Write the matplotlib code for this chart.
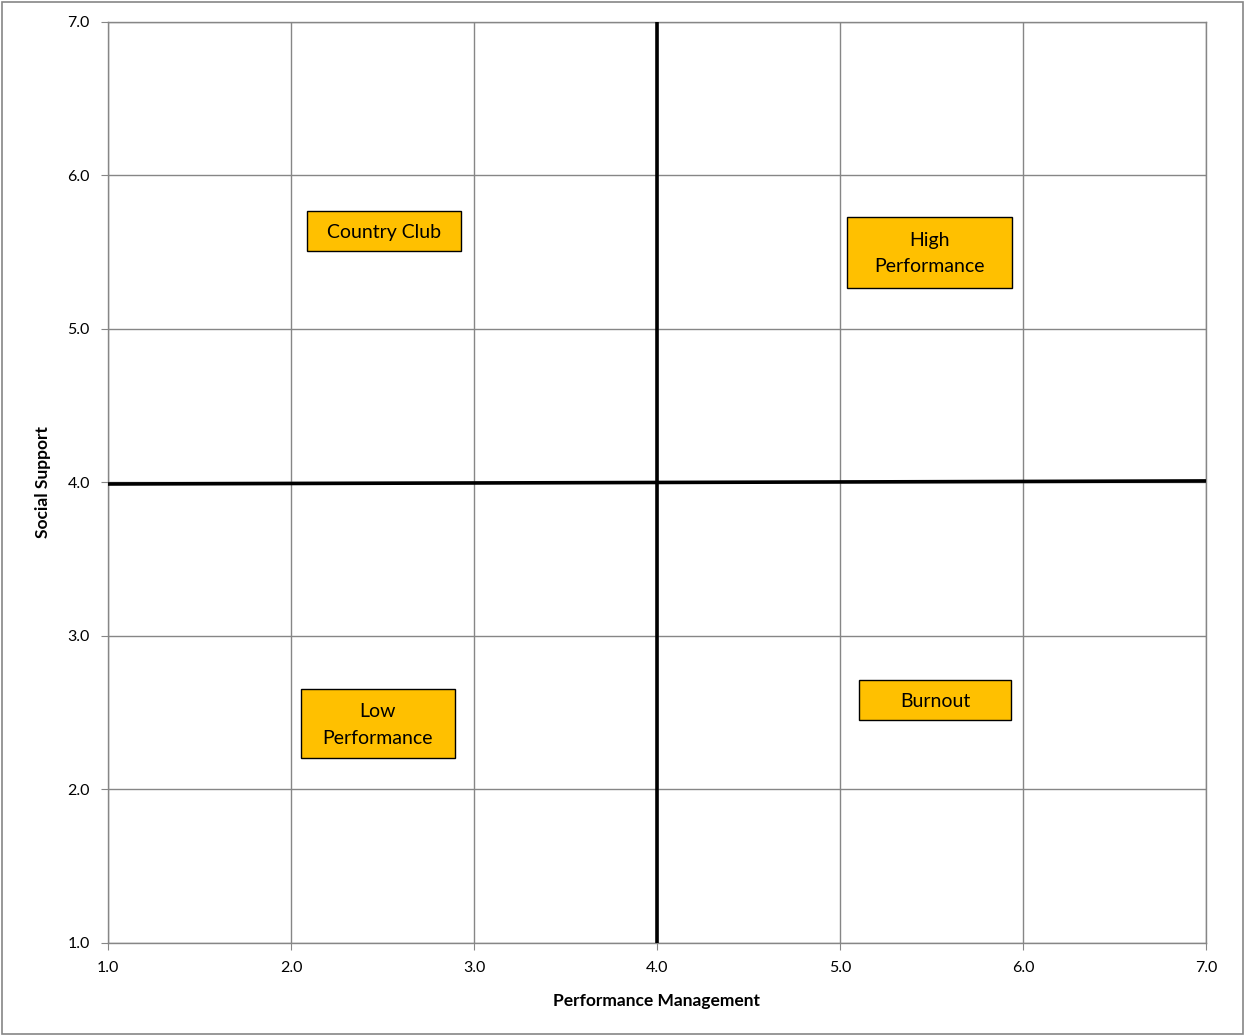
import matplotlib
matplotlib.use("Agg")
import matplotlib.pyplot as plt
from matplotlib.patches import Rectangle

plt.rcParams['font.family'] = ['Lato', 'DejaVu Sans']

# quadrant labels: text, centre (x, y), box size (w, h) in data units
etiquetas = ["Country Club", "High\nPerformance", "Low\nPerformance", "Burnout"]
centro_x = [2.51, 5.49, 2.475, 5.52]
centro_y = [5.64, 5.50, 2.43, 2.58]
ancho = [0.84, 0.90, 0.84, 0.83]
alto = [0.26, 0.46, 0.45, 0.26]

# divider lines (x = 4, y = 4)
linea_h_x = [1.0, 7.0]
linea_h_y = [3.99, 4.01]
linea_v_x = [4.0, 4.0]
linea_v_y = [1.0, 7.0]

ticks = [1.0, 2.0, 3.0, 4.0, 5.0, 6.0, 7.0]

gris = '#868686'

fig = plt.figure(figsize=(12.45, 10.36), dpi=100)
ax = fig.add_axes([0.0867, 0.0898, 0.882, 0.889])

# outer border of the chart area
fig.patches.append(Rectangle((0.002, 0.002), 0.996, 0.996, transform=fig.transFigure,
                             fill=False, edgecolor=gris, linewidth=1.2))

ax.set_xlim(1, 7)
ax.set_ylim(1, 7)
ax.set_xticks(ticks)
ax.set_yticks(ticks)
ax.set_xticklabels([f"{t:.1f}" for t in ticks])
ax.set_yticklabels([f"{t:.1f}" for t in ticks])
ax.grid(True, color=gris, linewidth=1.0)
ax.set_axisbelow(True)
for s in ax.spines.values():
    s.set_color(gris)
    s.set_linewidth(1.0)
ax.tick_params(direction='out', length=5, color=gris, labelsize=11.5, pad=8)

ax.plot(linea_h_x, linea_h_y, color='black', linewidth=2.6, zorder=3)
ax.plot(linea_v_x, linea_v_y, color='black', linewidth=2.6, zorder=3)

for txt, cx, cy, w, h in zip(etiquetas, centro_x, centro_y, ancho, alto):
    ax.add_patch(Rectangle((cx - w / 2, cy - h / 2), w, h, facecolor='#FFC000',
                           edgecolor='black', linewidth=1.0, zorder=4))
    ax.text(cx, cy - 0.01, txt, ha='center', va='center', fontsize=14,
            linespacing=1.65, zorder=5)

ax.set_xlabel("Performance Management", fontsize=12.5, fontweight='bold', labelpad=13)
ax.set_ylabel("Social Support", fontsize=12.5, fontweight='bold', labelpad=12)

fig.savefig("out.png", dpi=100)
